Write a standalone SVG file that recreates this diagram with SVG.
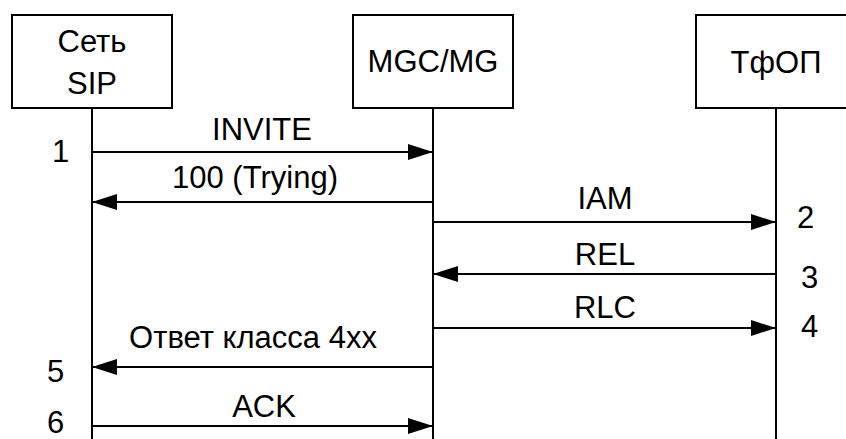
<svg xmlns="http://www.w3.org/2000/svg" width="846" height="439" viewBox="0 0 846 439">
<defs>
<style>
text{font-family:"Liberation Sans",Arial,sans-serif;font-size:31px;fill:#000}
.c{text-anchor:middle}
.box{fill:#fff;stroke:#000;stroke-width:2}
.life{stroke:#000;stroke-width:2;fill:none}
.msg{stroke:#000;stroke-width:2;fill:none;marker-end:url(#ah)}
</style>
<marker id="ah" markerUnits="userSpaceOnUse" markerWidth="25" markerHeight="16" refX="25" refY="8" orient="auto" viewBox="0 0 25 16">
<path d="M0,0 L25,8 L0,16 z" fill="#000"/>
</marker>
</defs>
<rect width="846" height="439" fill="#fff"/>
<g id="sip">
<rect class="box" x="12" y="15" width="160" height="93"/>
<text class="c" x="92" y="52">Сеть</text>
<text class="c" x="92" y="94">SIP</text>
<line class="life" x1="92" y1="108" x2="92" y2="439"/>
</g>
<g id="mgc">
<rect class="box" x="353" y="15" width="160" height="93"/>
<text class="c" x="433" y="72">MGC/MG</text>
<line class="life" x1="433" y1="108" x2="433" y2="439"/>
</g>
<g id="pstn">
<rect class="box" x="696" y="15" width="160" height="93"/>
<text class="c" x="776" y="73">ТфОП</text>
<line class="life" x1="776" y1="108" x2="776" y2="439"/>
</g>
<g id="connectors">
<line class="msg" x1="92" y1="152" x2="433" y2="152"/>
<line class="msg" x1="433" y1="202" x2="92" y2="202"/>
<line class="msg" x1="433" y1="222" x2="776" y2="222"/>
<line class="msg" x1="776" y1="274" x2="433" y2="274"/>
<line class="msg" x1="433" y1="328" x2="776" y2="328"/>
<line class="msg" x1="433" y1="367" x2="92" y2="367"/>
<line class="msg" x1="92" y1="426" x2="433" y2="426"/>
</g>
<g id="labels">
<text class="c" x="262" y="140">INVITE</text>
<text class="c" x="255" y="188">100 (Trying)</text>
<text class="c" x="605" y="209">IAM</text>
<text class="c" x="605" y="265">REL</text>
<text class="c" x="605" y="318">RLC</text>
<text class="c" x="253" y="348">Ответ класса 4xx</text>
<text class="c" x="264" y="417">ACK</text>
</g>
<g id="numbers">
<text x="52" y="162">1</text>
<text x="797" y="228">2</text>
<text x="801" y="288">3</text>
<text x="801" y="337">4</text>
<text x="47" y="382">5</text>
<text x="47" y="433">6</text>
</g>
</svg>
